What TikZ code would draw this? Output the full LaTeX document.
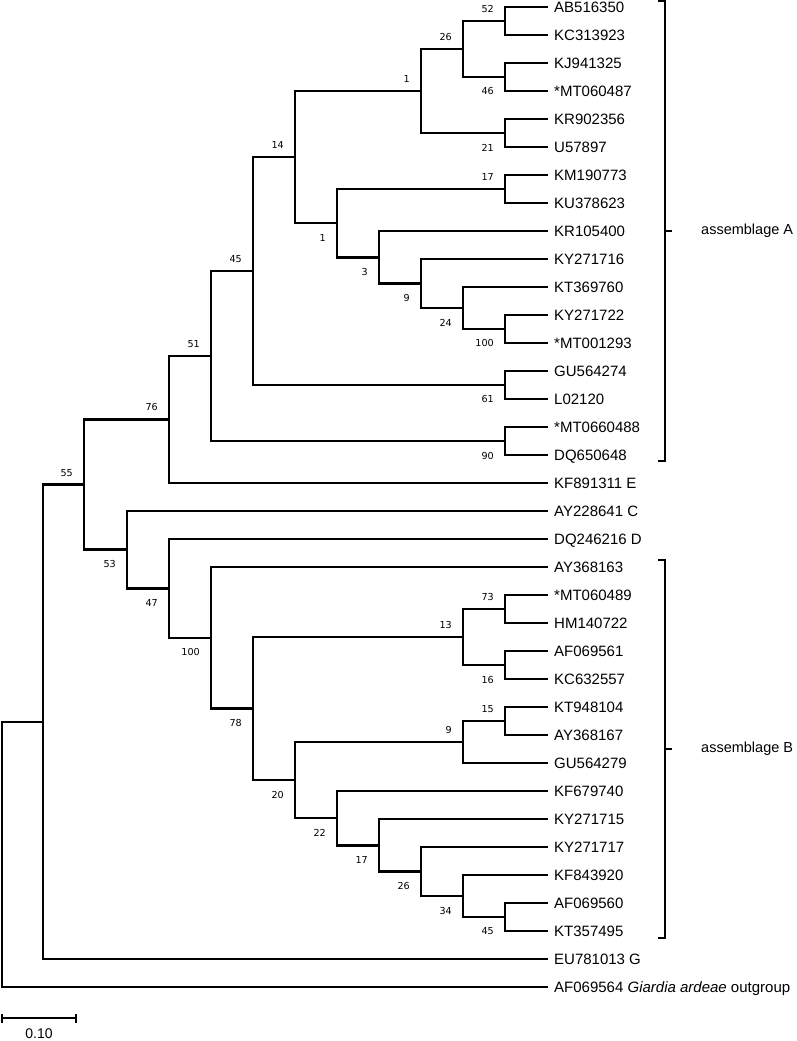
\documentclass[tikz,border=0pt]{standalone}
\usepackage{fontspec}
\usetikzlibrary{calc}
\setmainfont{Liberation Sans}
\newfontfamily\bsfont{DejaVu Sans}
\begin{document}
\begin{tikzpicture}[x=1pt,y=-1pt,
  br/.style={line width=2.5pt, line join=miter},
  brk/.style={line width=2pt},
  leaf/.style={anchor=base west, inner sep=0pt, xshift=6pt, yshift=-5.4pt, font=\fontsize{15}{18}\selectfont},
  bsu/.style={anchor=east, inner sep=0pt, xshift=-11pt, yshift=12pt, font=\bsfont\fontsize{9.6}{11}\selectfont},
  bsd/.style={anchor=east, inner sep=0pt, xshift=-11pt, yshift=-14.5pt, font=\bsfont\fontsize{9.6}{11}\selectfont},
  grp/.style={anchor=west, inner sep=0pt, font=\fontsize{14.5}{17}\selectfont}]
\useasboundingbox (0,0) rectangle (797,1041);
% leaves
\foreach \i/\t in {0/AB516350,1/KC313923,2/KJ941325,3/*MT060487,4/KR902356,5/U57897,
  6/KM190773,7/KU378623,8/KR105400,9/KY271716,10/KT369760,11/KY271722,12/*MT001293,
  13/GU564274,14/L02120,15/*MT0660488,16/DQ650648,17/KF891311 E,18/AY228641 C,
  19/DQ246216 D,20/AY368163,21/*MT060489,22/HM140722,23/AF069561,24/KC632557,
  25/KT948104,26/AY368167,27/GU564279,28/KF679740,29/KY271715,30/KY271717,
  31/KF843920,32/AF069560,33/KT357495,34/EU781013 G}{
  \coordinate (L\i) at (548,{7+28*\i});
  \node[leaf] (t\i) at (L\i) {\t};
}
\coordinate (L35) at (548,987);
\node[leaf] (t35) at (L35) {AF069564 \textit{Giardia ardeae} outgroup};
% internal nodes
\coordinate (n52) at (505,21);
\coordinate (n46) at (505,77);
\coordinate (n26) at (463,49);
\coordinate (n21) at (505,133);
\coordinate (n1a) at (421,91);
\coordinate (n17a) at (505,189);
\coordinate (n100a) at (505,329);
\coordinate (n24a) at (463,308);
\coordinate (n9a) at (421,283.5);
\coordinate (n3) at (379,257.25);
\coordinate (n1b) at (337,223.1);
\coordinate (n14) at (295,157.06);
\coordinate (n61) at (505,385);
\coordinate (n45) at (253,271.03);
\coordinate (n90) at (505,441);
\coordinate (n51) at (211,356);
\coordinate (n76) at (169,419.5);
\coordinate (n73) at (505,609);
\coordinate (n16) at (505,665);
\coordinate (n13) at (463,637);
\coordinate (n15) at (505,721);
\coordinate (n9b) at (463,742);
\coordinate (n45b) at (505,917);
\coordinate (n34) at (463,896);
\coordinate (n26b) at (421,871.5);
\coordinate (n17b) at (379,845.25);
\coordinate (n22) at (337,818.1);
\coordinate (n20) at (295,780.06);
\coordinate (n78) at (253,708.5);
\coordinate (n100b) at (211,637.8);
\coordinate (n47) at (169,588.4);
\coordinate (n53) at (127,549.7);
\coordinate (n55) at (84,484.6);
\coordinate (nG) at (43,721.8);
\coordinate (root) at (2,854.4);
% branches
\foreach \p/\c in {n52/L0,n52/L1,n46/L2,n46/L3,n26/n52,n26/n46,n21/L4,n21/L5,
  n1a/n26,n1a/n21,n17a/L6,n17a/L7,n100a/L11,n100a/L12,n24a/L10,n24a/n100a,
  n9a/L9,n9a/n24a,n3/L8,n3/n9a,n1b/n17a,n1b/n3,n14/n1a,n14/n1b,n61/L13,n61/L14,
  n45/n14,n45/n61,n90/L15,n90/L16,n51/n45,n51/n90,n76/n51,n76/L17,
  n73/L21,n73/L22,n16/L23,n16/L24,n13/n73,n13/n16,n15/L25,n15/L26,n9b/n15,n9b/L27,
  n45b/L32,n45b/L33,n34/L31,n34/n45b,n26b/L30,n26b/n34,n17b/L29,n17b/n26b,
  n22/L28,n22/n17b,n20/n9b,n20/n22,n78/n13,n78/n20,n100b/L20,n100b/n78,
  n47/L19,n47/n100b,n53/L18,n53/n47,n55/n76,n55/n53,nG/n55,nG/L34,root/nG,root/L35}{
  \draw[br] (\p) |- (\c);
}
% bootstrap values above
\foreach \n/\v in {n52/52,n26/26,n1a/1,n14/14,n17a/17,n45/45,n51/51,n76/76,n55/55,
  n73/73,n13/13,n15/15,n9b/9}{
  \node[bsu] (b\n) at (\n) {\v};
}
% bootstrap values below
\foreach \n/\v in {n46/46,n21/21,n1b/1,n3/3,n9a/9,n24a/24,n100a/100,n61/61,n90/90,
  n53/53,n47/47,n100b/100,n78/78,n16/16,n20/20,n22/22,n17b/17,n26b/26,n34/34,n45b/45}{
  \node[bsd] (b\n) at (\n) {\v};
}
% brackets
\coordinate (bAt) at (658,1);
\coordinate (bAb) at (658,461);
\coordinate (bAm) at (665,231);
\draw[brk] (bAt) -- ++(7,0) -- ($(bAb)+(7,0)$) -- (bAb);
\draw[brk] (bAm) -- ++(7,0);
\node[grp] (asmA) at (701,231) {assemblage A};
\coordinate (bBt) at (658,560);
\coordinate (bBb) at (658,938);
\coordinate (bBm) at (665,749);
\draw[brk] (bBt) -- ++(7,0) -- ($(bBb)+(7,0)$) -- (bBb);
\draw[brk] (bBm) -- ++(7,0);
\node[grp] (asmB) at (701,749) {assemblage B};
% scale bar
\coordinate (sb1) at (2,1018);
\coordinate (sb2) at (76,1018);
\draw[brk] (sb1) -- (sb2);
\draw[brk] ($(sb1)+(0,-4.5)$) -- ($(sb1)+(0,4.5)$);
\draw[brk] ($(sb2)+(0,-4.5)$) -- ($(sb2)+(0,4.5)$);
\node[inner sep=0pt, font=\fontsize{14}{17}\selectfont] (sbl) at (39,1033.5) {0.10};
\end{tikzpicture}
\end{document}
